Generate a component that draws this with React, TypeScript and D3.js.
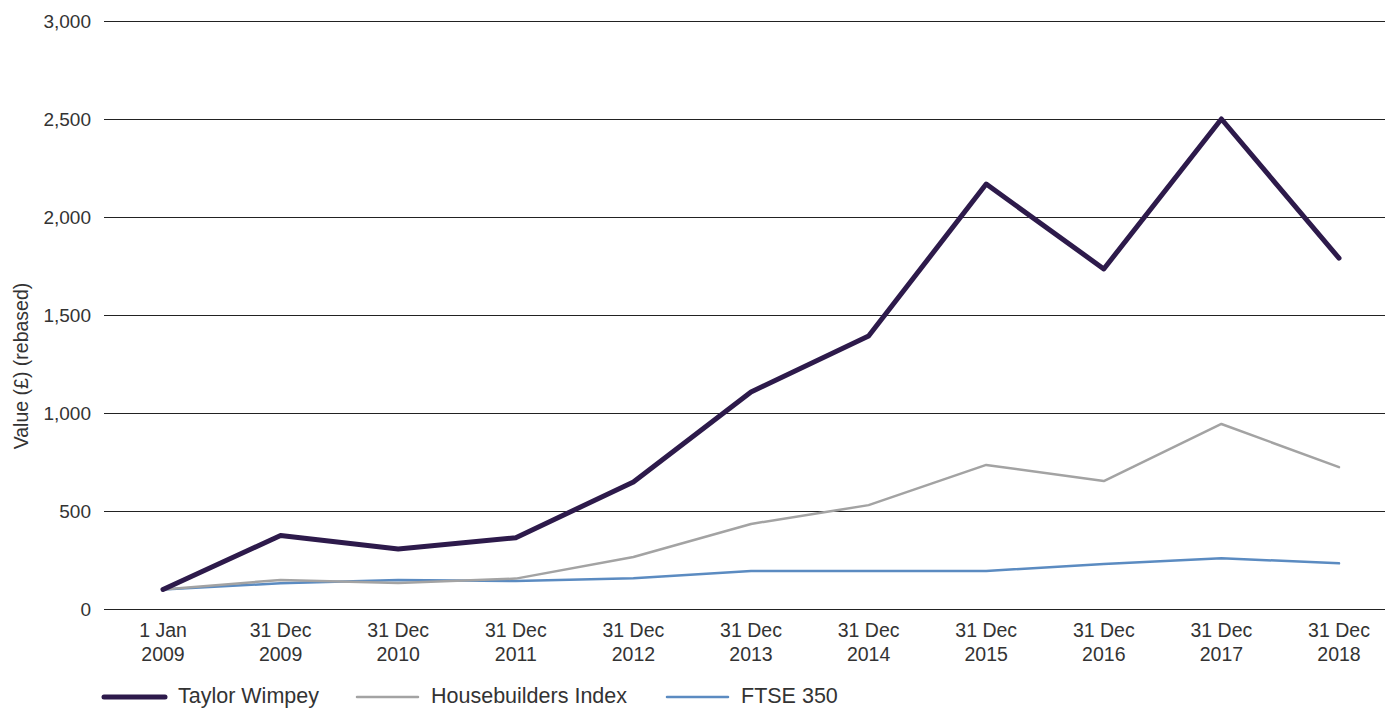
import React from 'react';
import * as d3 from 'd3';

const categories = [
  ['1 Jan', '2009'],
  ['31 Dec', '2009'],
  ['31 Dec', '2010'],
  ['31 Dec', '2011'],
  ['31 Dec', '2012'],
  ['31 Dec', '2013'],
  ['31 Dec', '2014'],
  ['31 Dec', '2015'],
  ['31 Dec', '2016'],
  ['31 Dec', '2017'],
  ['31 Dec', '2018'],
];

const taylorWimpey = [100, 375, 306, 364, 648, 1107, 1393, 2168, 1735, 2500, 1790];
const housebuilders = [100, 148, 133, 155, 265, 434, 530, 735, 653, 944, 724];
const ftse350 = [100, 131, 148, 143, 157, 194, 194, 194, 230, 259, 233];

const yTicks = [0, 500, 1000, 1500, 2000, 2500, 3000];

const series = [
  { name: 'Taylor Wimpey', values: taylorWimpey, color: '#2d1a4b', width: 5 },
  { name: 'Housebuilders Index', values: housebuilders, color: '#a3a3a3', width: 2.5 },
  { name: 'FTSE 350', values: ftse350, color: '#5b8bc1', width: 2.5 },
];

const W = 1385;
const H = 709;
const font = '"Liberation Sans", Arial, sans-serif';

export default function App() {
  const keys = categories.map((c, i) => String(i));
  const x = d3.scalePoint<string>().domain(keys).range([163, 1339]);
  const y = d3.scaleLinear().domain([0, 3000]).range([609, 21]);
  const fmt = d3.format(',');

  const line = d3
    .line<number>()
    .x((d, i) => x(String(i)) as number)
    .y((d) => y(d));

  const legendX = [104, 357, 667];

  return (
    <svg
      width={W}
      height={H}
      style={{ position: 'fixed', left: 0, top: 0, background: '#fff' }}
      fontFamily={font}
    >
      {/* grid + y labels */}
      {yTicks.map((t) => (
        <g key={t}>
          <line
            x1={104}
            x2={W}
            y1={y(t) + 0.5}
            y2={y(t) + 0.5}
            stroke="#222"
            strokeWidth={1}
            shapeRendering="crispEdges"
          />
          <text x={91} y={y(t)} dy="0.35em" textAnchor="end" fontSize={19} fill="#333">
            {fmt(t)}
          </text>
        </g>
      ))}

      <text
        transform="translate(28,366) rotate(-90)"
        textAnchor="middle"
        fontSize={19.5}
        fill="#333"
      >
        Value (£) (rebased)
      </text>

      {/* x labels */}
      {categories.map((c, i) => (
        <text key={i} x={x(String(i))} y={637} textAnchor="middle" fontSize={19.5} fill="#333">
          <tspan x={x(String(i))}>{c[0]}</tspan>
          <tspan x={x(String(i))} dy={24}>{c[1]}</tspan>
        </text>
      ))}

      {/* lines, drawn so Taylor Wimpey sits on top */}
      {series
        .slice()
        .reverse()
        .map((s) => (
          <path
            key={s.name}
            d={line(s.values) || ''}
            fill="none"
            stroke={s.color}
            strokeWidth={s.width}
            strokeLinejoin="round"
            strokeLinecap="round"
          />
        ))}

      {/* legend */}
      {series.map((s, i) => (
        <g key={s.name}>
          <line
            x1={legendX[i]}
            x2={legendX[i] + 61}
            y1={697}
            y2={697}
            stroke={s.color}
            strokeWidth={s.width}
            strokeLinecap="round"
          />
          <text x={legendX[i] + 74} y={703} fontSize={21.5} fill="#333">
            {s.name}
          </text>
        </g>
      ))}
    </svg>
  );
}
